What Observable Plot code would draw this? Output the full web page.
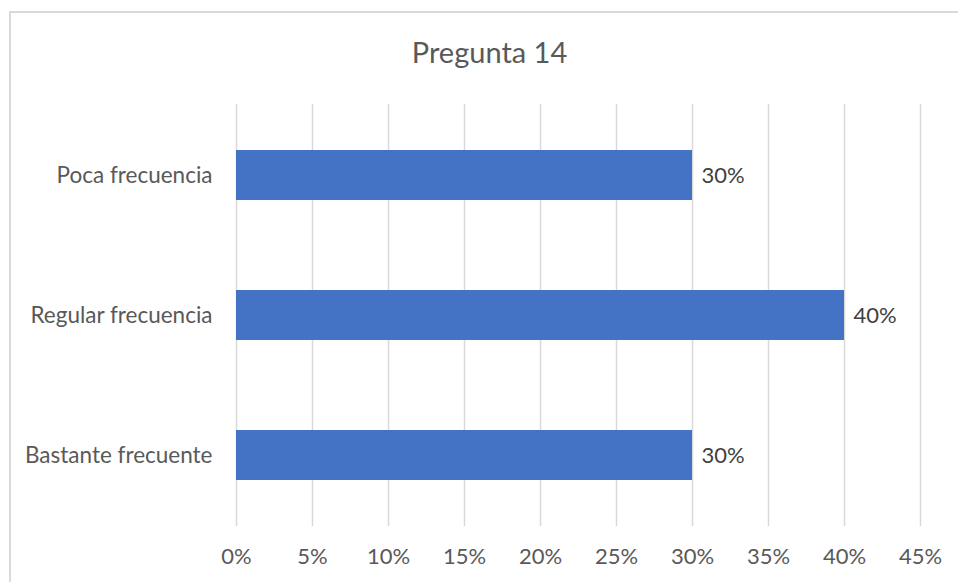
<!DOCTYPE html>
<html>
<head>
<meta charset="utf-8">
<script src="https://cdn.jsdelivr.net/npm/d3@7"></script>
<script src="https://cdn.jsdelivr.net/npm/@observablehq/plot@0.6"></script>
<style>
  html, body { margin: 0; padding: 0; background: #fff; }
  #wrap { position: relative; width: 958px; height: 582px; overflow: hidden; }
  #border { position: absolute; left: 9px; top: 11px; width: 1000px; height: 1000px; border-left: 2px solid #d9d9d9; border-top: 2px solid #d9d9d9; box-sizing: border-box; }
  #chart { position: absolute; left: 0; top: 0; }
</style>
</head>
<body>
<div id="wrap"><div id="border"></div><div id="chart"></div></div>
<script>
const title = "Pregunta 14";
const categories = ["Poca frecuencia", "Regular frecuencia", "Bastante frecuente"];
const values = [0.30, 0.40, 0.30];
const xTicks = [0, 0.05, 0.10, 0.15, 0.20, 0.25, 0.30, 0.35, 0.40, 0.45];

const data = categories.map((c, i) => ({category: c, value: values[i]}));
const font = "Lato, 'Open Sans', sans-serif";
const fmt = d3.format(".0%");

const plot = Plot.plot({
  width: 958,
  height: 582,
  marginTop: 104,
  marginBottom: 56,
  marginLeft: 236,
  marginRight: 38,
  style: {fontFamily: font, fontSize: "22px", color: "#595959", background: "transparent"},
  x: {domain: [0, 0.45], ticks: xTicks, tickFormat: fmt, label: null},
  y: {domain: categories, paddingInner: 0.645, paddingOuter: 0.3225, label: null},
  marks: [
    Plot.gridX(xTicks, {stroke: "#d9d9d9", strokeOpacity: 1, strokeWidth: 1.5}),
    Plot.axisX(xTicks, {tickFormat: fmt, tickSize: 0, tickPadding: 22, fontSize: 22, fill: "#595959"}),
    Plot.axisY({tickSize: 0, tickPadding: 24, fontSize: 22.5, fill: "#595959"}),
    Plot.barX(data, {x: "value", y: "category", fill: "#4472C4"}),
    Plot.text(data, {x: "value", y: "category", text: d => fmt(d.value), textAnchor: "start", dx: 9, fontSize: 22, fill: "#404040"}),
    Plot.text([title], {frameAnchor: "top", dx: -89, dy: -62, fontSize: 29, fill: "#595959"})
  ]
});
document.getElementById("chart").appendChild(plot);
</script>
</body>
</html>
